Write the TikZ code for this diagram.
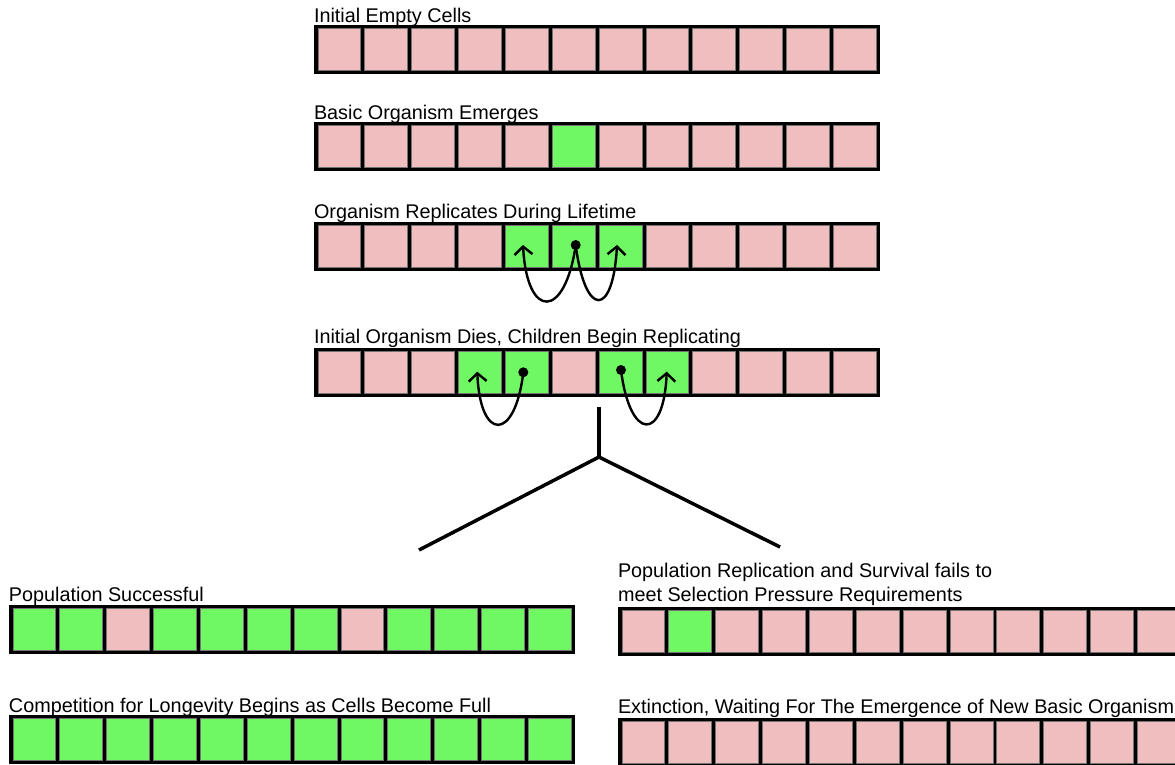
\documentclass[tikz,border=0pt]{standalone}
\usepackage{fontspec}
\setmainfont{Liberation Sans}
\usetikzlibrary{arrows.meta}
\definecolor{cellpink}{RGB}{240,190,190}
\definecolor{cellgreen}{RGB}{112,248,100}
\colorlet{P}{cellpink}
\colorlet{G}{cellgreen}
\newcommand{\cellstrip}[4]{%
  \node[stripbox] (#1) at (#2,#3) {};
  \foreach \c [count=\i from 0] in {#4} {
    \node[cellbox, fill=\c] (#1-\i) at ({#2+3.8+\i*46.87+21.45},{#3+3.5+21}) {};
  }
}
\begin{document}
\begin{tikzpicture}[x=1pt,y=-1pt,
  stripbox/.style={anchor=north west, fill=black, draw=none, minimum width=566pt, minimum height=49pt, inner sep=0pt, outer sep=0pt},
  cellbox/.style={draw=black!55, line width=0.6pt, minimum width=42.9pt, minimum height=42pt, inner sep=0pt, outer sep=0pt},
  lbl/.style={anchor=base west, inner sep=0pt, outer sep=0pt, font=\fontsize{19.8}{24}\selectfont, align=left},
  dotn/.style={circle, fill=black, inner sep=0pt, minimum size=10pt},
  loopline/.style={line width=2.4pt, -{Straight Barb[length=8pt, width=18pt, line width=2.4pt]}},
  branch/.style={line width=3.5pt}]
\useasboundingbox (0,0) rectangle (1175,765);
\clip (0,0) rectangle (1175,765);

% labels
\node[lbl] (l1) at (314,22.5) {Initial Empty Cells};
\node[lbl] (l2) at (314,119.5) {Basic Organism Emerges};
\node[lbl] (l3) at (314,218.5) {Organism Replicates During Lifetime};
\node[lbl] (l4) at (314,343.5) {Initial Organism Dies, Children Begin Replicating};
\node[lbl] (l5) at (9,601) {Population Successful};
\node[lbl] (l6) at (9,712) {Competition for Longevity Begins as Cells Become Full};
\node[lbl] (l7) at (618,601) {Population Replication and Survival fails to\\meet Selection Pressure Requirements};
\node[lbl] (l8) at (618,713) {Extinction, Waiting For The Emergence of New Basic Organism};

% strips
\cellstrip{s1}{314}{25}{P,P,P,P,P,P,P,P,P,P,P,P}
\cellstrip{s2}{314}{122}{P,P,P,P,P,G,P,P,P,P,P,P}
\cellstrip{s3}{314}{222}{P,P,P,P,G,G,G,P,P,P,P,P}
\cellstrip{s4}{314}{348}{P,P,P,G,G,P,G,G,P,P,P,P}
\cellstrip{s5}{9}{605}{G,G,P,G,G,G,G,P,G,G,G,G}
\cellstrip{s6}{9}{715}{G,G,G,G,G,G,G,G,G,G,G,G}
\cellstrip{s7}{618}{607}{P,G,P,P,P,P,P,P,P,P,P,P}
\cellstrip{s8}{618}{718}{P,P,P,P,P,P,P,P,P,P,P,P}

% replication loops, row 3
\node[dotn] (d3) at (575.7,245) {};
\coordinate (t3a) at (523,245);
\coordinate (t3b) at (617,245);
\draw[loopline] (d3.center) .. controls +(-10.7,75) and +(4,75) .. (t3a);
\draw[loopline] (d3.center) .. controls +(9.3,73) and +(-4,73) .. (t3b);

% replication loops, row 4
\node[dotn] (d4a) at (523.3,372.3) {};
\coordinate (t4a) at (477.3,371.7);
\draw[loopline] (d4a.center) .. controls +(-8.3,70) and +(2.7,70) .. (t4a);
\node[dotn] (d4b) at (621,370) {};
\coordinate (t4b) at (666.7,371.7);
\draw[loopline] (d4b.center) .. controls +(9,72) and +(-2.7,70) .. (t4b);

% branching
\coordinate (bt) at (599,407);
\coordinate (bm) at (599,457);
\coordinate (bl) at (419,550);
\coordinate (br) at (780,547);
\draw[branch] (bt) -- (bm);
\draw[branch] (bm) -- (bl);
\draw[branch] (bm) -- (br);
\end{tikzpicture}
\end{document}
